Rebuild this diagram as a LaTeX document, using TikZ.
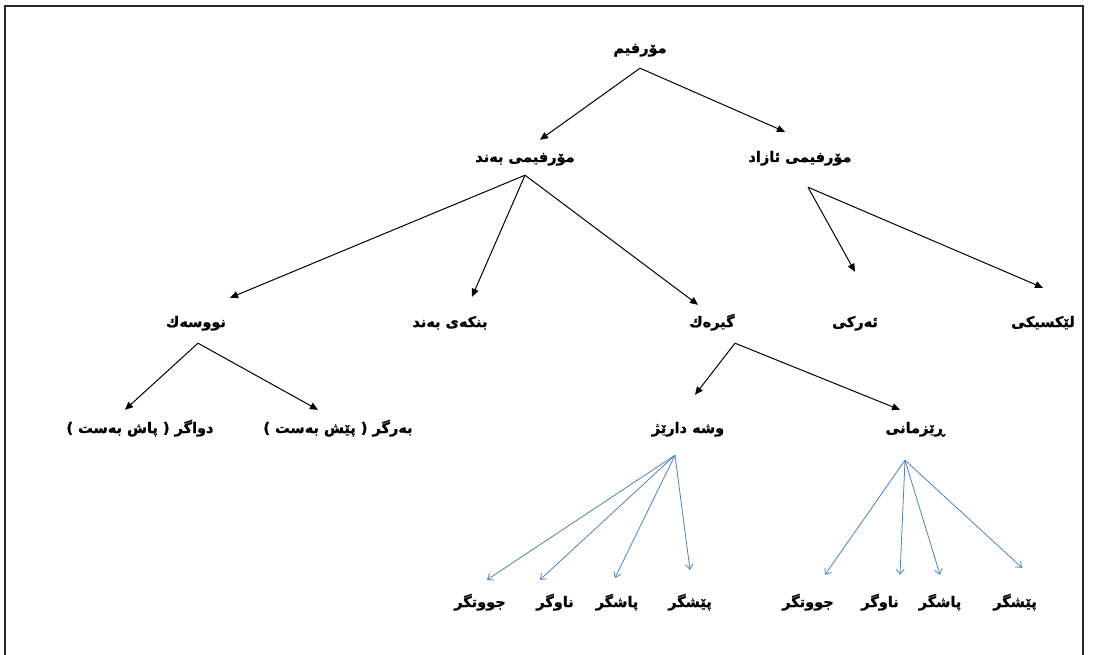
\documentclass[tikz,border=0pt]{standalone}
\usepackage{fontspec}
\usetikzlibrary{arrows.meta}
\newfontfamily\kurdfont[Script=Arabic, BoldFeatures={FakeBold=1.2}]{DejaVu Sans}
\TeXXeTstate=1
\newcommand{\kd}[1]{\kurdfont\bfseries\beginR #1\endR}
\definecolor{linkblue}{RGB}{79,129,189}

\begin{document}
\begin{tikzpicture}[x=1pt, y=-1pt,
	term/.style={inner sep=0pt, text height=12pt, text depth=2pt, font=\fontsize{14.5}{16}\selectfont},
	arr/.style={line width=1pt, -{Triangle[length=8pt,width=7pt]}},
	barr/.style={linkblue, line width=0.8pt, -{Straight Barb[length=5pt,width=8pt]}}]

	\useasboundingbox (0,0) rectangle (1093,655);
	\draw[line width=1.5pt, black!85] (5,655) -- (5,6) -- (1083,6) -- (1083,655);

	% levels
	\node[term] (root) at (640,48) {\kd{مۆرفیم}};
	\node[term] (bnd) at (525,157) {\kd{مۆرفیمی بەند}};
	\node[term] (free) at (800,157) {\kd{مۆرفیمی ئازاد}};

	\node[term] (affix) at (196,322) {\kd{نووسەك}};
	\node[term] (base) at (450,322) {\kd{بنكەی بەند}};
	\node[term] (clitic) at (712,322) {\kd{گیرەك}};
	\node[term] (func) at (855,322) {\kd{ئەركی}};
	\node[term] (lex) at (1043,322) {\kd{لێكسیكی}};

	\node[term] (suffix) at (140,428) {\kd{دواگر ( پاش بەست )}};
	\node[term] (prefix) at (338,428) {\kd{بەرگر ( پێش بەست )}};
	\node[term] (deriv) at (688,428) {\kd{وشە دارێژ}};
	\node[term] (gram) at (915,428) {\kd{ڕێزمانی}};

	\node[term] (dpre) at (690,602) {\kd{پێشگر}};
	\node[term] (dpost) at (617,602) {\kd{پاشگر}};
	\node[term] (dinf) at (555,602) {\kd{ناوگر}};
	\node[term] (dcirc) at (480,602) {\kd{جووتگر}};
	\node[term] (gpre) at (1015,602) {\kd{پێشگر}};
	\node[term] (gpost) at (940,602) {\kd{پاشگر}};
	\node[term] (ginf) at (880,602) {\kd{ناوگر}};
	\node[term] (gcirc) at (808,602) {\kd{جووتگر}};

	% black arrows
	\draw[arr] ([yshift=-13pt]root.south) -- ([xshift=15pt,yshift=10pt]bnd.north);
	\draw[arr] ([yshift=-13pt]root.south) -- ([xshift=-15pt,yshift=18pt]free.north);

	\draw[arr] ([yshift=-11pt]bnd.south) -- ([xshift=34pt,yshift=17pt]affix.north);
	\draw[arr] ([yshift=-11pt]bnd.south) -- ([xshift=22pt,yshift=18pt]base.north);
	\draw[arr] ([yshift=-11pt]bnd.south) -- ([xshift=-14pt,yshift=10pt]clitic.north);

	\draw[arr] ([xshift=8pt,yshift=-23pt]free.south) -- ([yshift=43pt]func.north);
	\draw[arr] ([xshift=8pt,yshift=-23pt]free.south) -- ([yshift=27pt]lex.north);

	\draw[arr] ([xshift=2pt,yshift=-14pt]affix.south) -- ([xshift=-15pt,yshift=11pt]suffix.north);
	\draw[arr] ([xshift=2pt,yshift=-14pt]affix.south) -- ([xshift=-20pt,yshift=11pt]prefix.north);

	\draw[arr] ([xshift=23pt,yshift=-14pt]clitic.south) -- ([xshift=7pt,yshift=26pt]deriv.north);
	\draw[arr] ([xshift=23pt,yshift=-14pt]clitic.south) -- ([xshift=-15pt,yshift=11pt]gram.north);

	% blue arrows
	\foreach \t/\dx/\dy in {dcirc/7/15, dinf/-15/15, dpost/-2/17, dpre/0/25}
		\draw[barr] ([xshift=-13pt,yshift=-20pt]deriv.south) -- ([xshift=\dx pt,yshift=\dy pt]\t.north);
	\foreach \t/\dx/\dy in {gcirc/17/20, ginf/20/20, gpost/0/20, gpre/7/27}
		\draw[barr] ([xshift=-10pt,yshift=-25pt]gram.south) -- ([xshift=\dx pt,yshift=\dy pt]\t.north);

\end{tikzpicture}
\end{document}
